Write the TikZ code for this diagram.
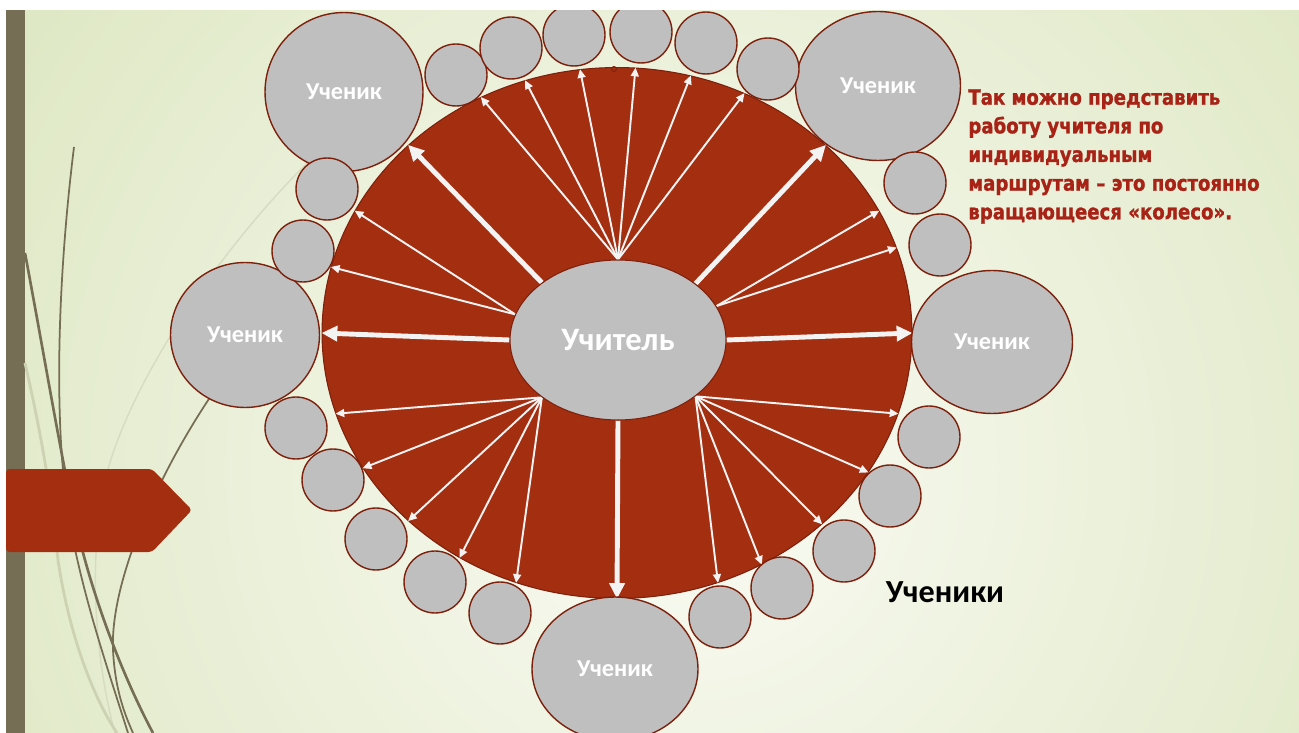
\documentclass[tikz,border=0pt]{standalone}
\usepackage{fontspec}
\setmainfont{Carlito}
\newfontfamily\notefont[FakeStretch=0.86, BoldFeatures={FakeBold=1.2}]{DejaVu Sans}
\usetikzlibrary{shapes.geometric, arrows.meta, positioning, calc}
\pgfdeclarelayer{background}
\pgfsetlayers{background,main}

\definecolor{wheelred}{RGB}{164,46,16}
\definecolor{rimred}{RGB}{125,32,12}
\definecolor{pupilgray}{RGB}{191,191,191}
\definecolor{arrowwhite}{RGB}{243,243,243}
\definecolor{barolive}{RGB}{118,110,84}
\definecolor{grasspale}{RGB}{205,211,178}
\definecolor{bgin}{RGB}{250,251,244}
\definecolor{bgout}{RGB}{220,230,192}
\definecolor{notered}{RGB}{168,34,22}

\begin{document}
\begin{tikzpicture}[
    x=0.02cm, y=-0.02cm,
    wheelnode/.style={ellipse, draw=rimred, fill=wheelred, line width=0.6pt, inner sep=0pt, minimum width=11.8cm, minimum height=10.62cm},
    teachernode/.style={ellipse, draw=rimred, fill=pupilgray, line width=0.6pt, inner sep=0pt, minimum width=4.32cm, minimum height=3.2cm, text=white, font=\bfseries\fontsize{18.6}{22}\selectfont},
    pupil/.style={ellipse, draw=rimred, fill=pupilgray, line width=0.8pt, inner sep=0pt, text=white, font=\bfseries\fontsize{13.8}{16}\selectfont},
    smallpupil/.style={circle, draw=rimred, fill=pupilgray, line width=0.8pt, inner sep=0pt, minimum size=1.24cm},
    thinarrow/.style={draw=arrowwhite, line width=1.1pt, -{Triangle[length=5pt, width=4.5pt]}},
    thickarrow/.style={draw=arrowwhite, line width=2.8pt, -{Triangle[length=9pt, width=8.5pt]}},
    grass/.style={draw=barolive, line width=1pt},
    palegrass/.style={draw=grasspale, line width=1.6pt}
]
    \useasboundingbox (0,0) rectangle (1299,733);

    % Teacher
    \node[teachernode] (teacher) at (618,340) {Учитель};

    \begin{pgfonlayer}{background}
        % Slide background
        \begin{scope}
            \clip (6,10) rectangle (1299,733);
            \shade[inner color=bgin, outer color=bgout] (690,470) circle (17.6cm);
        \end{scope}
        \fill[barolive] (6,10) rectangle (25,733);

        % Grass blades
        \draw[palegrass, line width=0.8pt, draw=grasspale!80!white] (307,163) .. controls (220,250) and (130,380) .. (105,480) .. controls (88,560) and (95,660) .. (115,733);
        \draw[palegrass] (25,363) .. controls (38,420) and (50,480) .. (58,560) .. controls (70,640) and (95,700) .. (117,733);
        \draw[grass] (74,147) .. controls (60,260) and (55,380) .. (63,470) .. controls (70,560) and (105,660) .. (128,733);
        \draw[grass, line width=1.5pt] (25,253) .. controls (45,360) and (60,450) .. (75,520) .. controls (95,610) and (130,690) .. (153,733);
        \draw[grass] (215,390) .. controls (160,470) and (110,580) .. (113,650) .. controls (115,690) and (125,715) .. (133,733);

        % Side tab
        \fill[wheelred, rounded corners=2pt] (6,469) -- (152,469) -- (192,510) -- (152,552) -- (6,552) -- cycle;

        % Wheel and spokes
        \node[wheelnode] (wheel) at (617,333) {};
        \draw[rimred, line width=0.5pt] (614,69) circle (0.05cm);
        \foreach \a in {120,110,98,86,74,62}
            \draw[thinarrow] (teacher.north) -- (wheel.\a);
        \foreach \a in {155,167}
            \draw[thinarrow] (teacher.166) -- (wheel.\a);
        \foreach \a in {25,17}
            \draw[thinarrow] (teacher.19) -- (wheel.\a);
        \foreach \a in {196,208,222,235,248}
            \draw[thinarrow] (teacher.217) -- (wheel.\a);
        \foreach \a in {292,302,317,331,344}
            \draw[thinarrow] (teacher.324) -- (wheel.\a);
        \draw[thickarrow] (teacher.143) -- (wheel.138);
        \draw[thickarrow] (teacher.36) -- (wheel.42);
        \draw[thickarrow] (teacher.west) -- (wheel.west);
        \draw[thickarrow] (teacher.east) -- (wheel.east);
        \draw[thickarrow] (teacher.south) -- (wheel.south);
    \end{pgfonlayer}

    % Pupils
    \node[pupil, minimum width=3.16cm, minimum height=3.18cm] (pupilNW) at (344,92) {Ученик};
    \node[pupil, minimum width=3.3cm, minimum height=2.98cm] (pupilNE) at (878,86) {Ученик};
    \node[pupil, minimum width=2.98cm, minimum height=2.9cm] (pupilW) at (245,335) {Ученик};
    \node[pupil, minimum width=3.22cm, minimum height=2.86cm] (pupilE) at (992,342) {Ученик};
    \node[pupil, minimum width=3.32cm, minimum height=2.88cm] (pupilS) at (615,669) {Ученик};
    \foreach \x/\y [count=\i] in {456/75, 511/48, 574/35, 641/32, 706/43, 768/69, 915/183, 940/245, 929/437, 890/496, 844/551, 782/588, 720/617, 500/613, 435/582, 376/539, 333/480, 296/428, 303/251, 327/189}
        \node[smallpupil] (kid\i) at (\x,\y) {};

    % Texts
    \node[anchor=north west, align=left, inner sep=0pt, text=notered, font=\notefont\bfseries\fontsize{12}{16.3}\selectfont] (note) at (968,89) {Так можно представить\\работу учителя по\\индивидуальным\\маршрутам – это постоянно\\вращающееся «колесо».};
    \node[font=\bfseries\fontsize{18.3}{22}\selectfont] (pupilsLabel) at (945,592) {Ученики};

    % Page margins
    \fill[white] (0,0) rectangle (1299,10);
    \fill[white] (0,0) rectangle (6,733);
\end{tikzpicture}
\end{document}
